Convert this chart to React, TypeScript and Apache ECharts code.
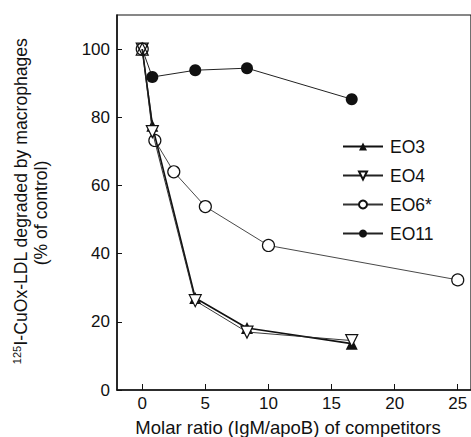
import React, { useEffect, useRef } from "react";
import * as echarts from "echarts";

const xTicks = [0, 5, 10, 15, 20, 25];
const yTicks = [0, 20, 40, 60, 80, 100];

const eo3X = [0, 0.8, 4.2, 8.3, 16.6];
const eo3Y = [100, 77.5, 27, 18.2, 13.6];
const eo4X = [0, 0.8, 4.2, 8.3, 16.6];
const eo4Y = [100, 75.8, 26.2, 17, 14.5];
const eo6X = [0, 1, 2.5, 5, 10, 25];
const eo6Y = [100, 73.2, 64, 53.8, 42.4, 32.3];
const eo11X = [0, 0.8, 4.2, 8.3, 16.6];
const eo11Y = [100, 91.8, 93.8, 94.4, 85.3];

const FONT = "Liberation Sans, Arial, Helvetica, sans-serif";
const downTri = "path://M0,0 L10,0 L5,9 Z";

function pairs(xs: number[], ys: number[], firstStyle?: any) {
  return xs.map((x, i) =>
    i === 0 && firstStyle ? { value: [x, ys[i]], ...firstStyle } : [x, ys[i]]
  );
}

export default function App() {
  const ref = useRef<HTMLDivElement>(null);
  useEffect(() => {
    const chart = echarts.init(ref.current!, undefined, { renderer: "svg" });
    chart.setOption({
      animation: false,
      backgroundColor: "#fff",
      grid: {
        left: 117,
        top: 15,
        right: -5,
        bottom: 47,
        show: true,
        borderColor: "#111",
        borderWidth: 1.2,
      },
      xAxis: {
        type: "value",
        min: -2,
        max: 26.05,
        axisLine: { onZero: false, lineStyle: { color: "#111", width: 1.5 } },
        axisTick: {
          inside: true,
          length: 6,
          customValues: xTicks,
          lineStyle: { color: "#111" },
        },
        axisLabel: {
          customValues: xTicks,
          color: "#111",
          fontSize: 17,
          fontFamily: FONT,
          margin: 5,
        },
        splitLine: { show: false },
      },
      yAxis: {
        type: "value",
        min: 0,
        max: 110,
        axisLine: { show: true, onZero: false, lineStyle: { color: "#111", width: 1.5 } },
        axisTick: {
          show: true,
          inside: true,
          length: 5,
          customValues: yTicks,
          lineStyle: { color: "#111" },
        },
        axisLabel: {
          customValues: yTicks,
          color: "#111",
          fontSize: 17,
          fontFamily: FONT,
          margin: 7,
        },
        splitLine: { show: false },
      },
      legend: {
        orient: "vertical",
        left: 337,
        top: 132,
        itemWidth: 40,
        itemHeight: 10,
        itemGap: 10,
        data: ["EO3", "EO4", "EO6*", "EO11"],
        textStyle: {
          color: "#111",
          fontSize: 17.5,
          fontFamily: FONT,
          lineHeight: 19,
          padding: [0, 0, 0, 2],
        },
      },
      series: [
        {
          name: "EO11",
          type: "line",
          z: 1,
          data: pairs(eo11X, eo11Y, { symbol: "none" }),
          symbol: "circle",
          symbolSize: 12,
          itemStyle: { color: "#111" },
          lineStyle: { color: "#222", width: 1 },
        },
        {
          name: "EO6*",
          type: "line",
          z: 2,
          data: pairs(eo6X, eo6Y, {
            itemStyle: { color: "transparent", borderColor: "#111", borderWidth: 1.2 },
          }),
          symbol: "circle",
          symbolSize: 12,
          itemStyle: { color: "#fff", borderColor: "#111", borderWidth: 1.2 },
          lineStyle: { color: "#333", width: 0.9 },
        },
        {
          name: "EO3",
          type: "line",
          z: 3,
          data: pairs(eo3X, eo3Y, {
            itemStyle: { color: "transparent", borderColor: "#111", borderWidth: 1.2 },
          }),
          symbol: "triangle",
          symbolSize: 12,
          itemStyle: { color: "#111" },
          lineStyle: { color: "#111", width: 1.6 },
        },
        {
          name: "EO4",
          type: "line",
          z: 4,
          data: pairs(eo4X, eo4Y, {
            itemStyle: { color: "transparent", borderColor: "#111", borderWidth: 1.2 },
          }),
          symbol: downTri,
          symbolSize: 12,
          itemStyle: { color: "#fff", borderColor: "#111", borderWidth: 1.2 },
          lineStyle: { color: "#222", width: 0.9 },
        },
      ],
      graphic: [
        {
          type: "text",
          x: 288,
          y: 427,
          style: {
            text: "Molar ratio (IgM/apoB) of competitors",
            fill: "#111",
            font: `18.5px ${FONT}`,
            align: "center",
            verticalAlign: "middle",
          },
        },
        {
          type: "text",
          x: 21,
          y: 201,
          rotation: Math.PI / 2,
          style: {
            text: "{sup|125}{m|I-CuOx-LDL degraded by macrophages}",
            fill: "#111",
            align: "center",
            verticalAlign: "middle",
            rich: {
              sup: { fontSize: 11, fontFamily: FONT, fill: "#111", verticalAlign: "top", lineHeight: 20 },
              m: { fontSize: 17.6, fontFamily: FONT, fill: "#111", lineHeight: 20 },
            },
          },
        },
        {
          type: "text",
          x: 41,
          y: 213,
          rotation: Math.PI / 2,
          style: {
            text: "(% of control)",
            fill: "#111",
            font: `17.6px ${FONT}`,
            align: "center",
            verticalAlign: "middle",
          },
        },
      ],
    });
    return () => chart.dispose();
  }, []);
  return (
    <div
      ref={ref}
      style={{ position: "absolute", left: 0, top: 0, width: 471, height: 437 }}
    />
  );
}
